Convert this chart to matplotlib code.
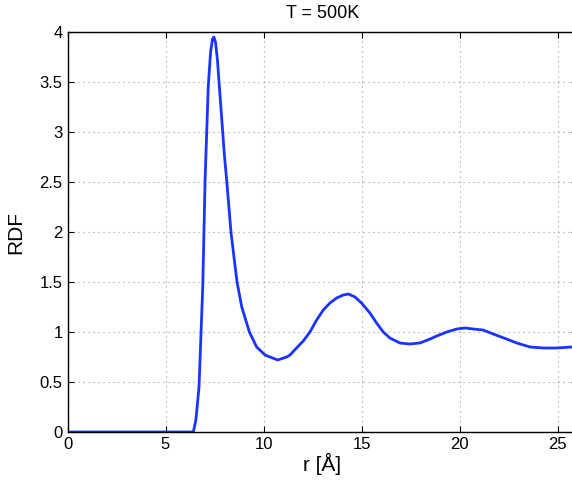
import matplotlib
matplotlib.use('Agg')
import matplotlib.pyplot as plt

# radial distribution function, T = 500K
r = [0, 2, 4, 6, 6.3, 6.42, 6.55, 6.71, 6.9, 7.02, 7.18, 7.3, 7.4, 7.47,
     7.55, 7.65, 7.75, 7.9, 8.0, 8.12, 8.26, 8.34, 8.53, 8.65, 8.89, 9.28,
     9.65, 10.08, 10.72, 11.18, 11.35, 11.83, 12.03, 12.37, 12.71, 13.05,
     13.39, 13.73, 14.07, 14.33, 14.67, 15.0, 15.43, 15.77, 16.11, 16.45,
     16.96, 17.47, 17.98, 18.5, 18.84, 19.35, 19.86, 20.28, 20.7, 21.2,
     21.72, 22.4, 22.92, 23.6, 24.3, 24.96, 25.72, 26.5]
rdf = [0, 0, 0, 0, 0, 0.0, 0.12, 0.45, 1.45, 2.52, 3.45, 3.8, 3.93, 3.95,
       3.9, 3.72, 3.45, 3.05, 2.78, 2.52, 2.19, 2.0, 1.69, 1.5, 1.25, 1.0,
       0.85, 0.77, 0.72, 0.75, 0.77, 0.87, 0.91, 1.0, 1.12, 1.22,
       1.29, 1.34, 1.37, 1.38, 1.35, 1.29, 1.19, 1.09, 1.0, 0.94,
       0.89, 0.88, 0.89, 0.93, 0.96, 1.0, 1.03, 1.04, 1.03, 1.02,
       0.98, 0.93, 0.89, 0.85, 0.84, 0.84, 0.85, 0.86]

xticks = [0, 5, 10, 15, 20, 25]
yticks = [0, 0.5, 1, 1.5, 2, 2.5, 3, 3.5, 4]
ytick_labels = ['0', '0.5', '1', '1.5', '2', '2.5', '3', '3.5', '4']

plt.rcParams['font.family'] = ['Liberation Sans', 'DejaVu Sans']

fig = plt.figure(figsize=(5.72, 4.87), dpi=100)
# axes runs a few pixels past the right edge of the figure, as in the reference
ax = fig.add_axes([67.5 / 572, 55 / 487, 509.6 / 572, 400 / 487])
ax.plot(r, rdf, color='#1a33ff', linewidth=2.0, solid_joinstyle='round')

ax.set_xlim(0, 26)
ax.set_ylim(0, 4)
ax.set_xticks(xticks)
ax.set_yticks(yticks)
ax.set_yticklabels(ytick_labels)
ax.tick_params(direction='in', top=True, right=True, labelsize=12, length=4)
ax.grid(True, linestyle=(0, (1, 3.5)), color='#999999', linewidth=0.8)
for s in ax.spines.values():
    s.set_linewidth(1.0)

ax.set_xlabel('r [Å]', fontsize=15, labelpad=1)
ax.set_ylabel('RDF', fontsize=15, labelpad=10)
ax.set_title('T = 500K', fontsize=13, pad=10)

fig.savefig('out.png', dpi=100)
